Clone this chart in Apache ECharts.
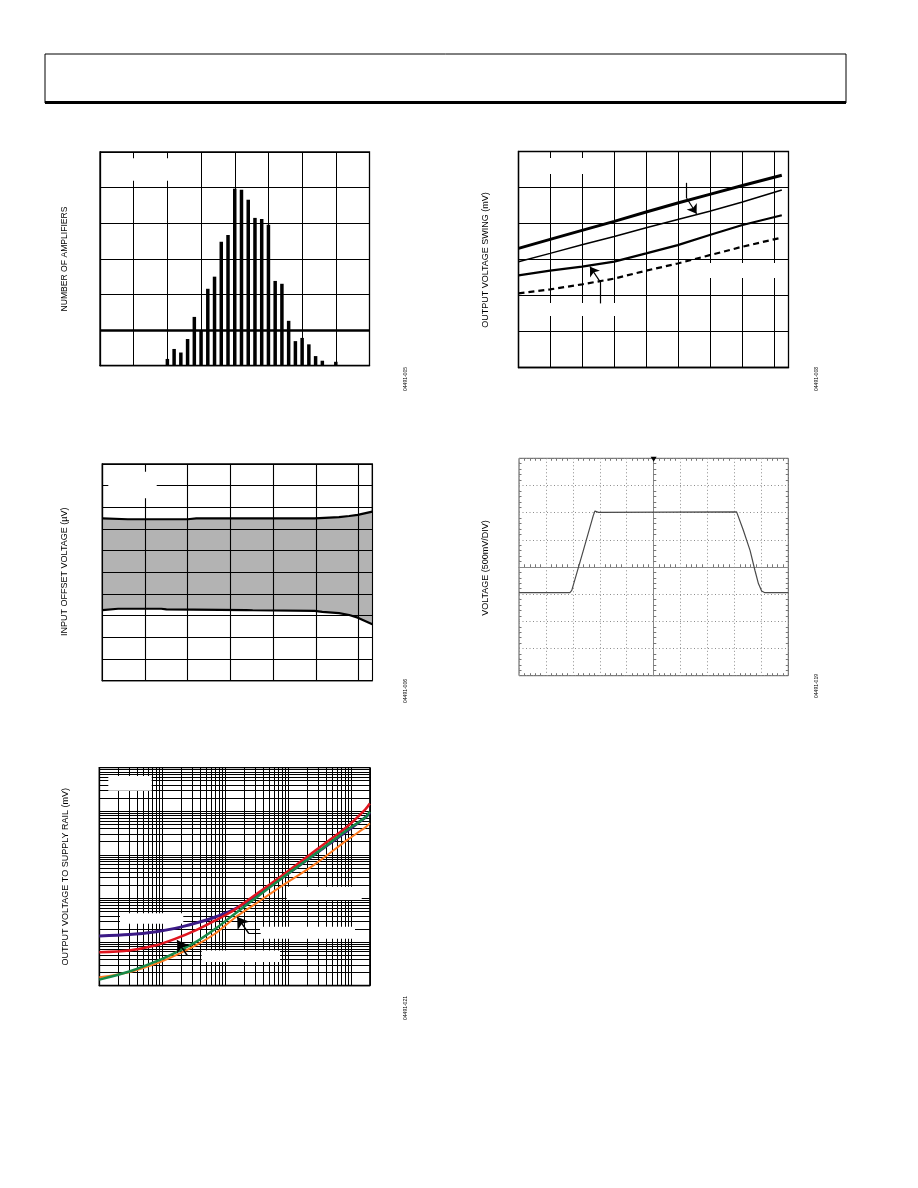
<!DOCTYPE html>
<html><head><meta charset="utf-8">
<script src="https://cdn.jsdelivr.net/npm/echarts@6/dist/echarts.min.js"></script>
<style>html,body{margin:0;padding:0;background:#fff}#c{width:918px;height:1188px}</style>
</head><body><div id="c"></div>
<script>
// ---------- data ----------
// Fig 1: histogram
const histBins = [10,11,12,13,14,15,16,17,18,19,20,21,22,23,24,25,26,27,28,29,30,31,32,33,34,35];
const histCounts = [1.9,4.7,3.7,7.5,13.7,10.0,21.6,25.0,34.8,36.7,49.7,49.4,46.6,41.5,41.2,39.6,23.8,23.0,12.6,6.9,7.8,6.0,2.7,1.4,0,1.1];
const histRefLine = 10;
// Fig 2: output voltage swing
const swingX = [0,0.99,1.99,3.0,4.0,4.99,5.99,6.99,8.25];
const swingA = [3.31,3.56,3.81,4.06,4.32,4.57,4.81,5.05,5.34];
const swingB = [2.94,3.17,3.41,3.64,3.88,4.11,4.34,4.59,4.93];
const swingC = [2.56,2.69,2.80,2.94,3.17,3.40,3.68,3.95,4.23];
const swingD = [2.06,2.17,2.31,2.47,2.69,2.89,3.12,3.35,3.61];
const swingArrow1 = [[5.27,5.13],[5.27,4.70],[5.58,4.27]];
const swingArrow2 = [[2.56,1.78],[2.56,2.38],[2.24,2.80]];
// Fig 3: input offset voltage band
const vosUpX = [0,0.6,2.0,2.2,4.97,5.54,5.78,5.98,6.32];
const vosUp  = [2.49,2.45,2.45,2.49,2.49,2.55,2.60,2.65,2.80];
const vosLoX = [0,0.37,1.38,1.5,3.37,3.52,4.97,5.15,5.54,5.78,5.98,6.32];
const vosLo  = [-1.74,-1.68,-1.68,-1.71,-1.74,-1.75,-1.78,-1.82,-1.88,-1.97,-2.09,-2.40];
// Fig 4: scope trace (divisions)
const scopeT = [-5,-3.11,-3.04,-2.61,-2.24,-2.18,-2.05,3.08,3.33,3.58,3.76,3.89,4.01,4.13,5];
const scopeV = [-0.945,-0.945,-0.86,0.61,1.90,2.06,2.01,2.03,1.35,0.61,-0.12,-0.61,-0.88,-0.945,-0.945];
// Fig 5: output voltage to supply rail vs load current (log-log)
const railLoad = [0.001,0.003,0.008,0.016,0.034,0.07,0.14,0.3,0.77,2.6,8.8,17,20];
const railP = [0.137,0.148,0.172,0.205,0.271,0.375,0.56,1.11,2.86,9.98,35.5,72,92];
const railR = [0.0585,0.0641,0.0841,0.118,0.185,0.313,0.543,1.2,3.16,11.9,44.7,110,150];
const railG = [0.0137,0.021,0.0358,0.0566,0.0993,0.201,0.434,1.0,2.8,10,37.5,72,98];
const railO = [0.0155,0.0203,0.0319,0.0485,0.0836,0.157,0.351,0.74,1.86,5.87,22,42.5,52.5];
const railArrow1 = [[0.0382,0.0491],[0.025,0.0491],[0.0173,0.109]];
const railArrow2 = [[0.368,0.156],[0.239,0.156],[0.156,0.376]];
// titles
const titles = ['NUMBER OF AMPLIFIERS','OUTPUT VOLTAGE SWING (mV)','INPUT OFFSET VOLTAGE (µV)','VOLTAGE (500mV/DIV)','OUTPUT VOLTAGE TO SUPPLY RAIL (mV)'];
const figIds = ['04491-005','04491-008','04491-006','04491-019','04491-021'];

// ---------- helpers ----------
const FONT = '"Liberation Sans", Arial, sans-serif';
const zip = (xs, ys) => xs.map((x, i) => [x, ys[i]]);
function boxAxis(o) {
  return Object.assign({
    type: 'value', axisLabel: {show: false}, axisTick: {show: false},
    axisLine: {show: true, onZero: false, lineStyle: {color: '#000', width: 1.3}},
    splitLine: {show: true, lineStyle: {color: '#000', width: 1}}
  }, o);
}
function scopeAxis(o, split, inside, lineShow, onZeroIdx) {
  const a = {
    type: 'value', gridIndex: 3, axisLabel: {show: false},
    axisTick: {show: false, inside: inside},
    minorTick: {show: true, splitNumber: 5, length: 2.5, lineStyle: {color: '#777', width: 1}},
    axisLine: {show: lineShow, onZero: onZeroIdx != null, lineStyle: {color: '#888', width: 1}},
    splitLine: {show: split, lineStyle: {color: '#8c8c8c', width: 1, type: [1, 2.5]}}
  };
  if (onZeroIdx != null) a.axisLine.onZeroAxisIndex = onZeroIdx;
  return Object.assign(a, o);
}
function segs(arr, from, to) {
  const out = [];
  for (let i = from; i < to; i++) out.push({coords: [arr[i], arr[i + 1]]});
  return out;
}
// log grid lines for fig 5
const xGrid = [], yGrid = [];
for (let e = -3; e <= 1; e++) for (let m = 1; m <= 9; m++) { const v = +(m * Math.pow(10, e)).toPrecision(3); if (v <= 20) xGrid.push(v); }
for (let e = -2; e <= 2; e++) for (let m = 1; m <= 9; m++) yGrid.push(+(m * Math.pow(10, e)).toPrecision(3));
yGrid.push(1000);
const railGridLines = xGrid.map(v => ({coords: [[v, 0.01], [v, 1000]]}))
  .concat(yGrid.map(v => ({coords: [[0.001, v], [20, v]]})));
// fig 3 grid lines drawn over the shaded band
const vosGridX = [0,1,2,3,4,5,6,6.32], vosGridY = [-5,-4,-3,-2,-1,0,1,2,3,4,5];
const vosGridLines = vosGridX.map(v => ({coords: [[v, -5], [v, 5]]}))
  .concat(vosGridY.map(v => ({coords: [[0, v], [6.32, v]]})));

const grids = [
  {left: 100, top: 152, width: 269.5, height: 213.7},
  {left: 518.5, top: 151.5, width: 270, height: 216},
  {left: 102.3, top: 464, width: 270, height: 216.7},
  {left: 519, top: 458.3, width: 269.3, height: 217.4},
  {left: 99.3, top: 767.6, width: 270.5, height: 218}
].map((g, i) => Object.assign({show: true, borderColor: i === 3 ? '#555' : '#000', borderWidth: i === 3 ? 1 : 1.3, backgroundColor: 'transparent', outerBoundsMode: 'none'}, g));

const xAxis = [
  boxAxis({gridIndex: 0, min: 0, max: 40, interval: 5}),
  boxAxis({gridIndex: 1, min: 0, max: 8.46, interval: 1}),
  boxAxis({gridIndex: 2, min: 0, max: 6.32, interval: 1}),
  scopeAxis({position: 'bottom', min: -5, max: 5, interval: 1}, true, true, false, null),
  scopeAxis({position: 'top', min: -5, max: 5, interval: 1}, false, true, false, null),
  scopeAxis({position: 'bottom', min: -5, max: 5, interval: 1}, false, true, true, 3),
  scopeAxis({position: 'top', min: -5, max: 5, interval: 1}, false, false, true, 3),
  {type: 'log', logBase: 10, gridIndex: 4, min: 0.001, max: 20, axisLabel: {show: false}, axisTick: {show: false},
   axisLine: {show: true, onZero: false, lineStyle: {color: '#000', width: 1.3}}, splitLine: {show: false}}
];
const yAxis = [
  boxAxis({gridIndex: 0, min: 0, max: 60, interval: 10}),
  boxAxis({gridIndex: 1, min: 0, max: 6, interval: 1}),
  boxAxis({gridIndex: 2, min: -5, max: 5, interval: 1}),
  scopeAxis({position: 'left', min: -4, max: 4, interval: 1}, true, true, false, null),
  scopeAxis({position: 'right', min: -4, max: 4, interval: 1}, false, true, false, null),
  scopeAxis({position: 'left', min: -4, max: 4, interval: 1}, false, true, true, 3),
  scopeAxis({position: 'right', min: -4, max: 4, interval: 1}, false, false, true, 3),
  {type: 'log', logBase: 10, gridIndex: 4, min: 0.01, max: 1000, axisLabel: {show: false}, axisTick: {show: false},
   axisLine: {show: true, onZero: false, lineStyle: {color: '#000', width: 1.3}}, splitLine: {show: false}}
];

const plainLine = (xi, yi, data, color, width, extra) => Object.assign({
  type: 'line', xAxisIndex: xi, yAxisIndex: yi, data: data, symbol: 'none', silent: true,
  lineStyle: {color: color, width: width}, itemStyle: {color: color}
}, extra || {});

const series = [
  // Fig 1
  {type: 'bar', xAxisIndex: 0, yAxisIndex: 0, data: zip(histBins, histCounts), barWidth: 3.5, silent: true,
   itemStyle: {color: '#000'},
   markLine: {silent: true, symbol: 'none', label: {show: false}, animation: false,
     lineStyle: {color: '#000', width: 2.6, type: 'solid'}, data: [{yAxis: histRefLine}]}},
  // Fig 2
  plainLine(1, 1, zip(swingX, swingA), '#000', 3),
  plainLine(1, 1, zip(swingX, swingB), '#000', 1.5),
  plainLine(1, 1, zip(swingX, swingC), '#000', 2.2),
  plainLine(1, 1, zip(swingX, swingD), '#000', 2.2, {lineStyle: {color: '#000', width: 2.2, type: [6, 4]}}),
  {type: 'lines', coordinateSystem: 'cartesian2d', xAxisIndex: 1, yAxisIndex: 1, silent: true, z: 4,
   symbol: 'none', lineStyle: {color: '#000', width: 1.2, opacity: 1},
   data: segs(swingArrow1, 0, 1).concat(segs(swingArrow2, 0, 1))},
  {type: 'lines', coordinateSystem: 'cartesian2d', xAxisIndex: 1, yAxisIndex: 1, silent: true, z: 4,
   symbol: ['none', 'arrow'], symbolSize: [5, 9], lineStyle: {color: '#000', width: 1.2, opacity: 1},
   data: segs(swingArrow1, 1, 2).concat(segs(swingArrow2, 1, 2))},
  // Fig 3
  plainLine(2, 2, zip(vosUpX, vosUp), '#000', 2.2, {areaStyle: {color: '#b3b3b3', opacity: 1, origin: 'start'}}),
  plainLine(2, 2, zip(vosLoX, vosLo), '#000', 2.2, {areaStyle: {color: '#fff', opacity: 1, origin: 'start'}}),
  {type: 'lines', coordinateSystem: 'cartesian2d', xAxisIndex: 2, yAxisIndex: 2, silent: true, z: 5,
   symbol: 'none', lineStyle: {color: '#000', width: 1.1, opacity: 1}, data: vosGridLines},
  // Fig 4
  plainLine(3, 3, zip(scopeT, scopeV), '#4a4a4a', 1.2, {
    markPoint: {silent: true, animation: false, label: {show: false},
      data: [{coord: [0, 4], symbol: 'triangle', symbolRotate: 180, symbolSize: [6, 5], symbolOffset: [0, 1], itemStyle: {color: '#000'}}]}}),
  // Fig 5
  {type: 'lines', coordinateSystem: 'cartesian2d', xAxisIndex: 7, yAxisIndex: 7, silent: true, z: 1,
   symbol: 'none', lineStyle: {color: '#000', width: 1, opacity: 1}, data: railGridLines},
  plainLine(7, 7, zip(railLoad, railP), '#3b1a86', 3, {smooth: 0.3}),
  plainLine(7, 7, zip(railLoad, railO), '#ff7a1e', 2, {smooth: 0.3}),
  plainLine(7, 7, zip(railLoad, railR), '#e0151f', 2.5, {smooth: 0.3}),
  plainLine(7, 7, zip(railLoad, railG), '#188a48', 2.5, {smooth: 0.3}),
  {type: 'lines', coordinateSystem: 'cartesian2d', xAxisIndex: 7, yAxisIndex: 7, silent: true, z: 4,
   symbol: 'none', lineStyle: {color: '#000', width: 1.2, opacity: 1},
   data: segs(railArrow1, 0, 1).concat(segs(railArrow2, 0, 1))},
  {type: 'lines', coordinateSystem: 'cartesian2d', xAxisIndex: 7, yAxisIndex: 7, silent: true, z: 4,
   symbol: ['none', 'arrow'], symbolSize: [6, 11], lineStyle: {color: '#000', width: 1.5, opacity: 1},
   data: segs(railArrow1, 1, 2).concat(segs(railArrow2, 1, 2))}
];

// blank label areas (erased legend text) and page decorations
const whiteBoxes = [
  [103.3, 158.3, 67.4, 22.4, 1.5],
  [523, 158, 89, 16, 1.5],
  [520, 303, 100, 13, 1.5],
  [700, 263, 80, 15, 1.5],
  [108.3, 471.7, 48.4, 26.6, 6],
  [108.3, 776, 43.4, 14.7, 1.5],
  [120, 913.3, 63.3, 10.5, 1.5],
  [286.7, 886.7, 75, 13.3, 1.5],
  [260, 926.7, 95, 12, 1.5],
  [201.7, 950.5, 78.3, 11.5, 1.5]
];
const graphic = [
  {type: 'rect', shape: {x: 45, y: 54, width: 801, height: 49}, style: {fill: 'none', stroke: '#000', lineWidth: 1}, z: 10},
  {type: 'line', shape: {x1: 45, y1: 102.5, x2: 846, y2: 102.5}, style: {stroke: '#000', lineWidth: 3}, z: 10}
];
whiteBoxes.forEach(b => graphic.push({type: 'rect', shape: {x: b[0], y: b[1], width: b[2], height: b[3]}, style: {fill: '#fff'}, z: b[4]}));
const titlePos = [[65, 259, 8.6], [486, 260, 9], [65, 571.7, 9], [486, 568, 9], [66, 876.7, 9]];
titles.forEach((t, i) => graphic.push({type: 'text', x: titlePos[i][0], y: titlePos[i][1], rotation: Math.PI / 2, z: 10,
  style: {text: t, font: titlePos[i][2] + 'px ' + FONT, fill: '#000', align: 'center', verticalAlign: 'middle', textAlign: 'center', textVerticalAlign: 'middle'}}));
const idPos = [[406, 379], [817, 379], [406, 691], [817, 686], [406, 1008]];
figIds.forEach((t, i) => graphic.push({type: 'text', x: idPos[i][0], y: idPos[i][1], rotation: Math.PI / 2, z: 10,
  style: {text: t, font: '5px ' + FONT, fill: '#000', align: 'center', verticalAlign: 'middle', textAlign: 'center', textVerticalAlign: 'middle'}}));

const chart = echarts.init(document.getElementById('c'), null, {renderer: 'canvas', width: 918, height: 1188});
chart.setOption({
  backgroundColor: '#fff', animation: false,
  grid: grids, xAxis: xAxis, yAxis: yAxis, series: series, graphic: graphic
});
</script></body></html>
